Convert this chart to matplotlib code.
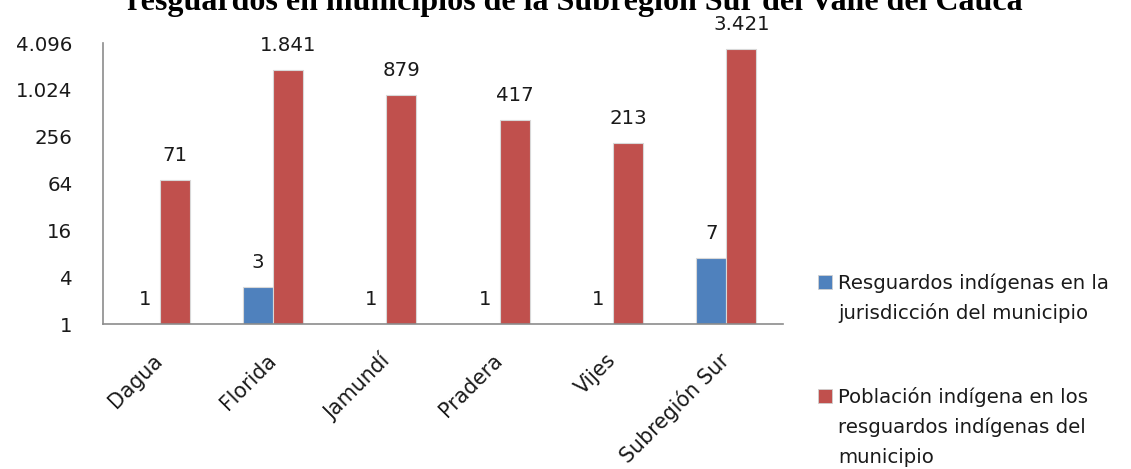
import matplotlib
matplotlib.use("Agg")
import matplotlib.pyplot as plt
import numpy as np
from matplotlib.ticker import FixedLocator, FuncFormatter
from matplotlib.patches import Rectangle

categories = ["Dagua", "Florida", "Jamundí", "Pradera", "Vijes", "Subregión Sur"]
resguardos = [1, 3, 1, 1, 1, 7]
poblacion = [71, 1841, 879, 417, 213, 3421]
series_names = [["Resguardos indígenas en la", "jurisdicción del municipio"],
                ["Población indígena en los", "resguardos indígenas del", "municipio"]]
yticks = [1, 4, 16, 64, 256, 1024, 4096]
title = "resguardos en municipios de la Subregión Sur del Valle del Cauca"

blue = "#4F81BD"
red = "#C0504D"
txt = "#1a1a1a"
font = "DejaVu Sans"
fs = 14.2

W, H = 1131, 469
fig = plt.figure(figsize=(W / 100, H / 100), dpi=100)
ax = fig.add_axes([103 / W, 1 - 324 / H, (783 - 103) / W, (324 - 43) / H])

x = np.arange(len(categories))
bw = 0.265
ax.set_yscale("log", base=2)
ax.set_ylim(1, 4096)
ax.set_xlim(-0.5, len(categories) - 0.5)

b1 = ax.bar(x - bw / 2, resguardos, bw, color=blue, edgecolor="#d8d8d8", linewidth=0.8)
b2 = ax.bar(x + bw / 2, poblacion, bw, color=red, edgecolor="#d8d8d8", linewidth=0.8)

def fmt(v):
    return f"{int(v):,}".replace(",", ".")

for rects, vals in ((b1, resguardos), (b2, poblacion)):
    for r, v in zip(rects, vals):
        ax.annotate(fmt(v), (r.get_x() + r.get_width() / 2, v), xytext=(0, 11),
                    textcoords="offset points", ha="center", va="bottom",
                    fontsize=fs, family=font, color=txt)

ax.yaxis.set_major_locator(FixedLocator(yticks))
ax.yaxis.set_major_formatter(FuncFormatter(lambda v, p: fmt(v)))
ax.yaxis.set_minor_locator(FixedLocator([]))
ax.set_xticks(x)
ax.set_xticklabels(categories, rotation=45, ha="right", va="center", rotation_mode="anchor",
                   fontsize=fs + 0.6, family=font, color=txt)
for lab in ax.get_yticklabels():
    lab.set_fontsize(fs)
    lab.set_family(font)
    lab.set_color(txt)
ax.tick_params(axis="both", length=0)
ax.tick_params(axis="y", pad=22)
ax.tick_params(axis="x", pad=24)
for s in ("top", "right"):
    ax.spines[s].set_visible(False)
for s in ("left", "bottom"):
    ax.spines[s].set_color("#8c8c8c")
    ax.spines[s].set_linewidth(1.2)

fig.text(575 / W, 1 - 10 / H, title, ha="center", va="baseline",
         fontsize=23, fontweight="bold", family="Liberation Serif", color="black")

# legend drawn manually (handle aligned with first line, as in the source)
leg_baseline = [289, 403]
line_step = 30
for lines, col, yb in zip(series_names, [blue, red], leg_baseline):
    fig.patches.append(Rectangle((818 / W, 1 - yb / H), 14 / W, 14 / H,
                                 transform=fig.transFigure, facecolor=col,
                                 edgecolor="#d0d0d0", linewidth=0.6))
    for i, line in enumerate(lines):
        fig.text(838 / W, 1 - (yb + i * line_step) / H, line, ha="left", va="baseline",
                 fontsize=fs, family=font, color=txt)

fig.savefig("out.png", dpi=100)
